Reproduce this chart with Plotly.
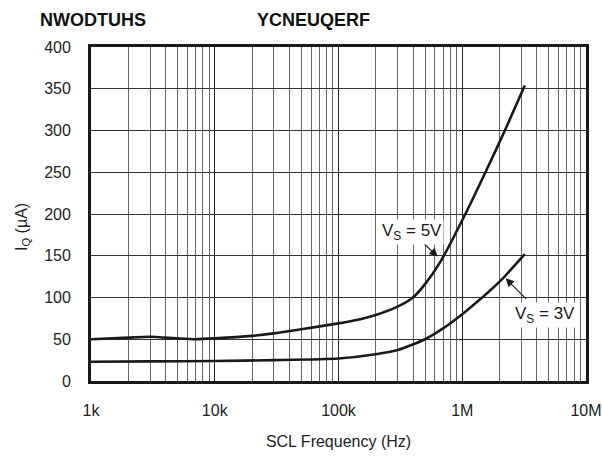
import plotly.graph_objects as go

freq_5v = [1e3, 2e3, 3e3, 5e3, 7e3, 1e4, 2e4, 3e4, 5e4, 1e5, 1.5e5, 2e5, 3e5,
           4e5, 5e5, 6.67e5, 1.06e6, 1.54e6, 2.21e6, 3.2e6]
iq_5v = [50, 52, 53, 51, 50, 51, 54, 57, 62, 69, 74, 79, 89,
         100, 116, 143, 200, 250, 300, 354]
freq_3v = [1e3, 3e3, 1e4, 3e4, 1e5, 2e5, 3e5, 5e5, 7e5, 1e6, 1.35e6, 2.13e6, 2.6e6, 3.2e6]
iq_3v = [23, 23.5, 24, 25, 27, 32, 37, 50, 63, 80, 96, 123, 137, 152]

x_ticks = [1e3, 1e4, 1e5, 1e6, 1e7]
x_labels = ["1k", "10k", "100k", "1M", "10M"]
y_ticks = [0, 50, 100, 150, 200, 250, 300, 350, 400]

FONT = "Liberation Sans, Arial, sans-serif"
L, R, T, B = 91, 16, 47, 77
PW, PH = 602 - L - R, 458 - T - B

fig = go.Figure()
for xs, ys in ((freq_5v, iq_5v), (freq_3v, iq_3v)):
    fig.add_trace(go.Scatter(x=xs, y=ys, mode="lines",
                             line=dict(color="#1a1a1a", width=2.6, shape="spline", smoothing=0.6),
                             showlegend=False, hoverinfo="skip"))

fig.update_layout(
    width=602, height=458,
    margin=dict(l=L, r=R, t=T, b=B, autoexpand=False),
    paper_bgcolor="white", plot_bgcolor="white",
    font=dict(family=FONT, size=16, color="#222"),
    showlegend=False,
)
fig.update_xaxes(
    type="log", range=[3, 7], automargin=False,
    tickvals=x_ticks, ticktext=x_labels,
    showgrid=True, gridcolor="#222", gridwidth=1.3,
    minor=dict(dtick="D1", showgrid=True, gridcolor="#666", gridwidth=1.1, ticks=""),
    showline=True, linecolor="#1a1a1a", linewidth=2.8, mirror=True,
    ticks="", ticklabelstandoff=13,
    title=dict(text="SCL Frequency (Hz)", standoff=18, font=dict(size=16)),
    zeroline=False,
)
fig.update_yaxes(
    range=[0, 400], tickvals=y_ticks, automargin=False,
    showgrid=True, gridcolor="#333", gridwidth=1.3,
    showline=True, linecolor="#1a1a1a", linewidth=2.8, mirror=True,
    ticks="", ticklabelstandoff=14,
    zeroline=False,
)

# y-axis title as annotation (positioned like reference)
fig.add_annotation(xref="paper", yref="paper", x=(22 - L) / PW, y=(458 - B - 227) / PH,
                   text="I<sub>Q</sub> (µA)", textangle=-90, showarrow=False,
                   xanchor="center", yanchor="middle", font=dict(size=16, color="#222"))

# Arrows
fig.add_annotation(x=5.802, y=149, xref="x", yref="y", text="", showarrow=True,
                   ax=-16, ay=-15, arrowhead=2, arrowsize=1.4, arrowwidth=1.2, arrowcolor="#1a1a1a",
                   standoff=0)
fig.add_annotation(x=6.35, y=123, xref="x", yref="y", text="", showarrow=True,
                   ax=22, ay=22, arrowhead=2, arrowsize=1.4, arrowwidth=1.2, arrowcolor="#1a1a1a",
                   standoff=0)
# Labels
fig.add_annotation(x=5.593, y=178, xref="x", yref="y", text="V<sub>S</sub> = 5V", showarrow=False,
                   bgcolor="white", font=dict(size=17, color="#1a1a1a"), borderpad=1)
fig.add_annotation(x=6.665, y=79, xref="x", yref="y", text="V<sub>S</sub> = 3V", showarrow=False,
                   bgcolor="white", font=dict(size=17, color="#1a1a1a"), borderpad=1)

# Title (mirrored in source)
ty = 1 + (T - 20) / PH
fig.add_annotation(xref="paper", yref="paper", x=(93 - L) / PW, y=ty,
                   text="<b>NWODTUHS</b>", showarrow=False, xanchor="center", yanchor="middle",
                   font=dict(size=18, color="#111"))
fig.add_annotation(xref="paper", yref="paper", x=(313 - L) / PW, y=ty,
                   text="<b>YCNEUQERF</b>", showarrow=False, xanchor="center", yanchor="middle",
                   font=dict(size=18, color="#111"))

fig.write_html("out.html")
